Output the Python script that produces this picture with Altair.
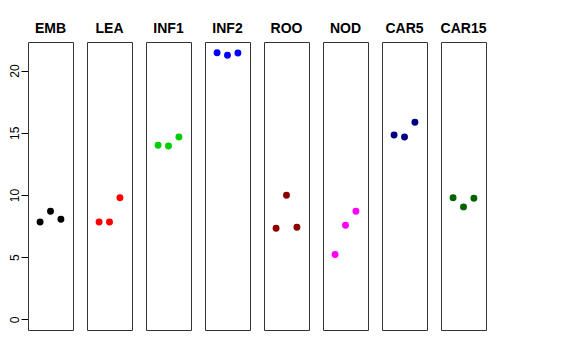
import altair as alt
import pandas as pd

tissues = ["EMB", "LEA", "INF1", "INF2", "ROO", "NOD", "CAR5", "CAR15"]
colors = ["#000000", "#FF0000", "#00CD00", "#0000FF", "#8B0000", "#FF00FF", "#000080", "#006400"]
rep_pos = [1, 2, 3]
values = {
    "EMB": [7.83, 8.69, 8.05],
    "LEA": [7.83, 7.83, 9.78],
    "INF1": [13.99, 13.94, 14.66],
    "INF2": [21.43, 21.24, 21.41],
    "ROO": [7.32, 9.97, 7.40],
    "NOD": [5.21, 7.56, 8.69],
    "CAR5": [14.82, 14.66, 15.84],
    "CAR15": [9.78, 9.04, 9.73],
}

rows = []
for t in tissues:
    for p, v in zip(rep_pos, values[t]):
        rows.append({"tissue": t, "pos": p, "value": v})
df = pd.DataFrame(rows)

base = alt.Chart(df).mark_circle(size=48, opacity=1).encode(
    x=alt.X("pos:Q", scale=alt.Scale(domain=[-0.16, 4.16], nice=False, zero=False), axis=None),
    y=alt.Y("value:Q", scale=alt.Scale(domain=[-0.86, 22.3], nice=False, zero=False),
            axis=alt.Axis(title=None, grid=False, values=[0, 5, 10, 15, 20], domain=False,
                          tickSize=7, tickColor="black", labelAngle=270, labelAlign="center",
                          labelBaseline="bottom", labelPadding=0, labelFontSize=12,
                          labelFont="Liberation Sans", labelColor="black")),
    color=alt.Color("tissue:N", scale=alt.Scale(domain=tissues, range=colors), legend=None),
).properties(width=45, height=288)

chart = base.facet(
    column=alt.Column("tissue:N", sort=tissues,
                      header=alt.Header(title=None, labelFont="Liberation Sans", labelFontSize=14,
                                        labelFontWeight="bold", labelColor="black", labelPadding=6,
                                        labelOrient="top")),
    spacing=14,
    bounds="flush",
).configure_view(stroke="#333333", strokeWidth=1).properties(
    padding={"left": 0, "top": 14, "right": 5, "bottom": 5}
)

chart.save("out.html", embed_options={"renderer": "svg", "actions": False})
